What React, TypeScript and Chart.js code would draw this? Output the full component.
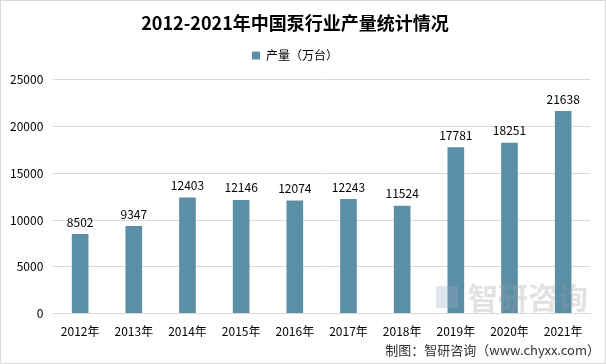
import React, { useEffect, useRef } from "react";
import { Chart, registerables } from "chart.js";

Chart.register(...registerables);

const categories = ["2012年", "2013年", "2014年", "2015年", "2016年", "2017年", "2018年", "2019年", "2020年", "2021年"];
const production = [8502, 9347, 12403, 12146, 12074, 12243, 11524, 17781, 18251, 21638];
const seriesName = "产量（万台）";
const titleText = "2012-2021年中国泵行业产量统计情况";
const sourceText = "制图：智研咨询（www.chyxx.com）";
const watermarkText = "智研咨询";

const FONT = "'Noto Sans CJK SC', 'Noto Sans', sans-serif";
const BAR_COLOR = "#5b8fa6";

const valueLabelPlugin = {
  id: "valueLabels",
  afterDatasetsDraw(chart: any) {
    const ctx = chart.ctx;
    const meta = chart.getDatasetMeta(0);
    ctx.save();
    ctx.font = `12px ${FONT}`;
    ctx.fillStyle = "#000";
    ctx.textAlign = "center";
    ctx.textBaseline = "bottom";
    meta.data.forEach((bar: any, i: number) => {
      ctx.fillText(String(production[i]), bar.x, bar.y - 6);
    });
    ctx.restore();
  },
};

const legendSpacing = {
  id: "legendSpacing",
  beforeInit(chart: any) {
    const orig = chart.legend.fit;
    chart.legend.fit = function () {
      orig.bind(chart.legend)();
      this.height += 8;
    };
  },
};

const decorPlugin = {
  id: "decor",
  afterDraw(chart: any) {
    const ctx = chart.ctx;
    ctx.save();
    // watermark
    ctx.globalAlpha = 0.3;
    ctx.fillStyle = "#a0a0a0";
    ctx.font = `bold 30px ${FONT}`;
    ctx.textAlign = "left";
    ctx.textBaseline = "middle";
    ctx.fillText(watermarkText, 468, 298);
    ctx.fillStyle = "#9aa8c0";
    ctx.fillRect(436, 286, 22, 22);
    ctx.globalAlpha = 1;
    // source
    ctx.fillStyle = "#333";
    ctx.font = `13px ${FONT}`;
    ctx.textAlign = "right";
    ctx.textBaseline = "middle";
    ctx.fillText(sourceText, 600, 350);
    // frame
    ctx.strokeStyle = "#d9d9d9";
    ctx.lineWidth = 1;
    ctx.strokeRect(0.5, 0.5, chart.width - 1, chart.height - 1);
    ctx.restore();
  },
};

export default function App() {
  const ref = useRef<HTMLCanvasElement>(null);
  useEffect(() => {
    if (!ref.current) return;
    const chart = new Chart(ref.current, {
      type: "bar",
      data: {
        labels: categories,
        datasets: [
          {
            label: seriesName,
            data: production,
            backgroundColor: BAR_COLOR,
            barPercentage: 0.62,
            categoryPercentage: 0.5,
          },
        ],
      },
      options: {
        animation: false,
        responsive: false,
        maintainAspectRatio: false,
        layout: { padding: { left: 0, right: 16, top: 4, bottom: 22 } },
        plugins: {
          title: {
            display: true,
            text: titleText,
            color: "#000",
            font: { family: FONT, size: 18, weight: "bold" },
            padding: { top: 8, bottom: 6 },
          },
          legend: {
            display: true,
            labels: {
              boxWidth: 8,
              boxHeight: 8,
              color: "#000",
              font: { family: FONT, size: 12 },
            },
          },
          tooltip: { enabled: false },
        },
        scales: {
          x: {
            grid: { display: false },
            border: { display: true, color: "#d9d9d9" },
            ticks: { color: "#000", font: { family: FONT, size: 12 }, maxRotation: 0 },
          },
          y: {
            min: 0,
            max: 25000,
            ticks: {
              stepSize: 5000,
              color: "#000",
              font: { family: FONT, size: 12 },
              padding: 10,
              callback: (v: any) => String(v),
            },
            grid: { color: "#d9d9d9", drawTicks: false },
            border: { display: false },
          },
        },
      },
      plugins: [legendSpacing, valueLabelPlugin, decorPlugin],
    });
    return () => chart.destroy();
  }, []);
  return (
    <div style={{ position: "absolute", left: 0, top: 0, width: 606, height: 364, background: "#fff" }}>
      <canvas ref={ref} width={606} height={364} style={{ width: 606, height: 364 }} />
    </div>
  );
}
